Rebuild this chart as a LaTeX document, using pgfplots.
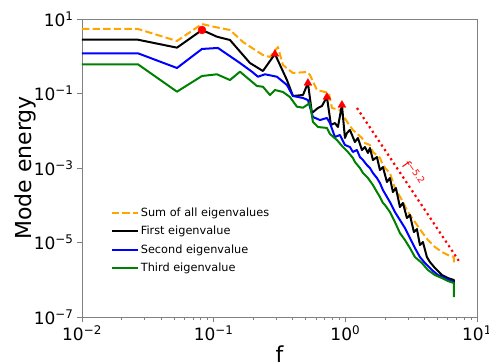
\documentclass[border=0pt]{standalone}
\usepackage{fontspec}
\setmainfont{DejaVu Sans}
\usepackage{pgfplots}
\pgfplotsset{compat=1.18}
\definecolor{mporange}{HTML}{FFA500}
\definecolor{mpgreen}{HTML}{008000}
\definecolor{spine}{HTML}{808080}

\begin{document}
\begin{tikzpicture}
\useasboundingbox (-82pt,-44pt) rectangle (407pt,317pt);
\begin{axis}[
  xmode=log, ymode=log,
  scale only axis, width=395pt, height=298pt,
  xmin=0.01, xmax=10, ymin=1e-7, ymax=10,
  axis line style={spine, line width=0.9pt},
  tick style={spine, line width=0.9pt},
  major tick length=5pt, minor tick length=3pt,
  tick align=outside,
  xtick pos=left, ytick pos=left,
  xtick={0.01,0.1,1,10},
  xticklabels={10\textsuperscript{−2},10\textsuperscript{−1},10\textsuperscript{0},10\textsuperscript{1}},
  minor xtick={0.02,0.03,0.04,0.05,0.06,0.07,0.08,0.09,0.2,0.3,0.4,0.5,0.6,0.7,0.8,0.9,2,3,4,5,6,7,8,9},
  ytick={1e-7,1e-5,1e-3,1e-1,10},
  yticklabels={10\textsuperscript{−7},10\textsuperscript{−5},10\textsuperscript{−3},10\textsuperscript{−1},10\textsuperscript{1}},
  yminorticks=false,
  ticklabel style={font=\fontsize{17}{17}\selectfont},
  xlabel={f}, ylabel={Mode energy},
  label style={font=\fontsize{22}{22}\selectfont},
  xlabel style={at={(axis description cs:0.5,-0.151)}, anchor=base},
  ylabel style={at={(axis description cs:-0.142,0.5)}, anchor=center},
  legend style={at={(axis description cs:0.065,0.38)}, anchor=north west, draw=none, fill=none,
    font=\fontsize{11.3}{13}\selectfont, row sep=4.3pt},
  legend cell align=left,
  legend image code/.code={\draw[#1] (0pt,0pt) -- (23pt,0pt); \path (0pt,0pt) -- (26pt,0pt);},
  every axis plot/.append style={line join=round},
]
\addplot[mporange, line width=2pt, dash pattern=on 7.4pt off 3.2pt] coordinates {
(0.01,5.39) (0.02661,5.39) (0.05264,2.57) (0.0815,7.34) (0.1023,6.10) (0.1330,5.07)
(0.1669,2.41) (0.2367,1.08) (0.2676,0.955) (0.3078,1.77) (0.3359,0.582) (0.4000,0.355)
(0.5111,0.378) (0.5385,0.314) (0.6088,0.124) (0.7000,0.110) (0.7507,0.103) (0.7913,0.0408)
(0.9100,0.0361) (0.9590,0.0265) (1.0464,0.0161) (1.1421,0.0105) (1.3370,6.39e-3)
(1.4088,4.69e-3) (1.5374,4.15e-3) (1.6203,2.69e-3) (1.8311,1.86e-3) (1.9298,1.20e-3)
(2.0701,8.84e-4) (2.1812,7.34e-4) (2.3800,2.90e-4) (2.6904,1.38e-4) (2.9877,6.59e-5)
(3.3770,3.55e-5) (3.8161,1.91e-5) (4.2380,1.17e-5) (4.7907,7.57e-6) (5.4150,5.56e-6)
(6.0117,4.62e-6) (6.6771,4.08e-6) (6.6771,2.49e-6)
};
\addlegendentry{Sum of all eigenvalues}
\addplot[black, line width=2pt] coordinates {
(0.01,2.78) (0.02661,2.78) (0.05264,1.70) (0.0815,5.07) (0.1059,3.35) (0.1330,2.73)
(0.1886,0.659) (0.2367,0.402) (0.2920,1.15) (0.3602,0.230) (0.4000,0.0857) (0.4767,0.0912)
(0.5200,0.191) (0.5577,0.0300) (0.6194,0.0408) (0.6643,0.0462) (0.7249,0.0805)
(0.7776,0.0143) (0.8337,0.0161) (0.8787,0.0126) (0.9423,0.0491) (0.9931,6.39e-3)
(1.0283,8.70e-3) (1.0837,0.0105) (1.1828,4.99e-3) (1.2465,6.39e-3) (1.3370,3.04e-3)
(1.4088,3.66e-3) (1.4846,2.53e-3) (1.5374,3.44e-3) (1.6203,1.64e-3) (1.7376,1.97e-3)
(1.8311,8.84e-4) (1.9298,1.06e-3) (2.0701,4.21e-4) (2.1812,5.39e-4) (2.2982,2.27e-4)
(2.4221,2.90e-4) (2.5977,8.97e-5) (2.7379,1.15e-4) (2.9358,4.55e-5) (3.0941,5.47e-5)
(3.3184,1.91e-5) (3.4972,2.30e-5) (3.6851,8.57e-6) (3.8834,1.03e-5) (4.1645,4.08e-6)
(4.3890,3.00e-6) (4.7907,2.07e-6) (5.4150,1.34e-6) (6.0117,1.11e-6) (6.6771,9.85e-7)
(6.6771,8.18e-7)
};
\addlegendentry{First eigenvalue}
\addplot[blue, line width=2pt] coordinates {
(0.01,1.20) (0.02661,1.20) (0.05264,0.484) (0.0815,1.57) (0.1078,1.67) (0.1584,0.659)
(0.1953,0.385) (0.2170,0.282) (0.2452,0.328) (0.3024,0.282) (0.3602,0.169) (0.4000,0.0857)
(0.4767,0.0757) (0.5200,0.0669) (0.5675,0.0234) (0.6415,0.0194) (0.7249,0.0220)
(0.7640,0.0161) (0.8337,6.80e-3) (0.9100,7.69e-3) (0.9931,4.15e-3) (1.0837,3.66e-3)
(1.1421,2.69e-3) (1.2249,3.04e-3) (1.2910,1.97e-3) (1.3607,1.64e-3) (1.4588,1.20e-3)
(1.5374,1.00e-3) (1.6203,7.34e-4) (1.7376,5.39e-4) (1.8311,3.96e-4) (1.9298,2.57e-4)
(2.0701,1.67e-4) (2.1812,1.22e-4) (2.3800,6.59e-5) (2.5977,4.02e-5) (2.8354,2.45e-5)
(3.0941,1.32e-5) (3.3770,7.12e-6) (3.6851,4.08e-6) (4.0217,2.82e-6) (4.5456,1.83e-6)
(5.0490,1.34e-6) (5.7043,1.11e-6) (6.6771,8.70e-7)
};
\addlegendentry{Second eigenvalue}
\addplot[mpgreen, line width=2pt] coordinates {
(0.01,0.608) (0.02661,0.608) (0.05264,0.112) (0.0815,0.295) (0.1059,0.328) (0.1330,0.230)
(0.1584,0.385) (0.2132,0.159) (0.2367,0.152) (0.2676,0.0912) (0.2920,0.124) (0.3359,0.110)
(0.3796,0.0805) (0.4290,0.0442) (0.4767,0.0416) (0.5385,0.0556) (0.5675,0.0172)
(0.6194,0.0126) (0.7249,0.0119) (0.7640,8.18e-3) (0.8634,5.64e-3) (0.9590,3.66e-3)
(1.0464,2.69e-3) (1.1421,1.86e-3) (1.1828,1.45e-3) (1.2910,1.00e-3) (1.3607,7.34e-4)
(1.4846,5.39e-4) (1.6203,3.50e-4) (1.7376,2.27e-4) (1.8311,1.67e-4) (1.9298,1.15e-4)
(1.9985,1.02e-4) (2.1812,6.59e-5) (2.3800,3.55e-5) (2.5977,1.80e-5) (2.8354,1.17e-5)
(3.0941,7.12e-6) (3.3770,4.08e-6) (3.8161,2.82e-6) (4.2380,1.83e-6) (4.7907,1.34e-6)
(5.4150,1.11e-6) (6.0117,9.26e-7) (6.6771,8.18e-7) (6.6771,3.44e-7)
};
\addlegendentry{Third eigenvalue}
\addplot[red, line width=2.2pt, dash pattern=on 2.2pt off 3.3pt, forget plot] coordinates {
(1.2249,0.0408) (7.29,3.19e-6)
};
\addplot[only marks, mark=*, red, mark size=4pt, forget plot] coordinates {(0.0815,5.07)};
\addplot[only marks, mark=triangle*, red, mark size=4.5pt, forget plot] coordinates {
(0.2920,1.15) (0.5200,0.191) (0.7249,0.0805) (0.9423,0.0491)
};
\node[red, rotate=-55, font=\fontsize{13}{13}\selectfont] at (axis cs:3.30,7.3e-4) {f\textsuperscript{−5.2}};
\end{axis}
\end{tikzpicture}
\end{document}
